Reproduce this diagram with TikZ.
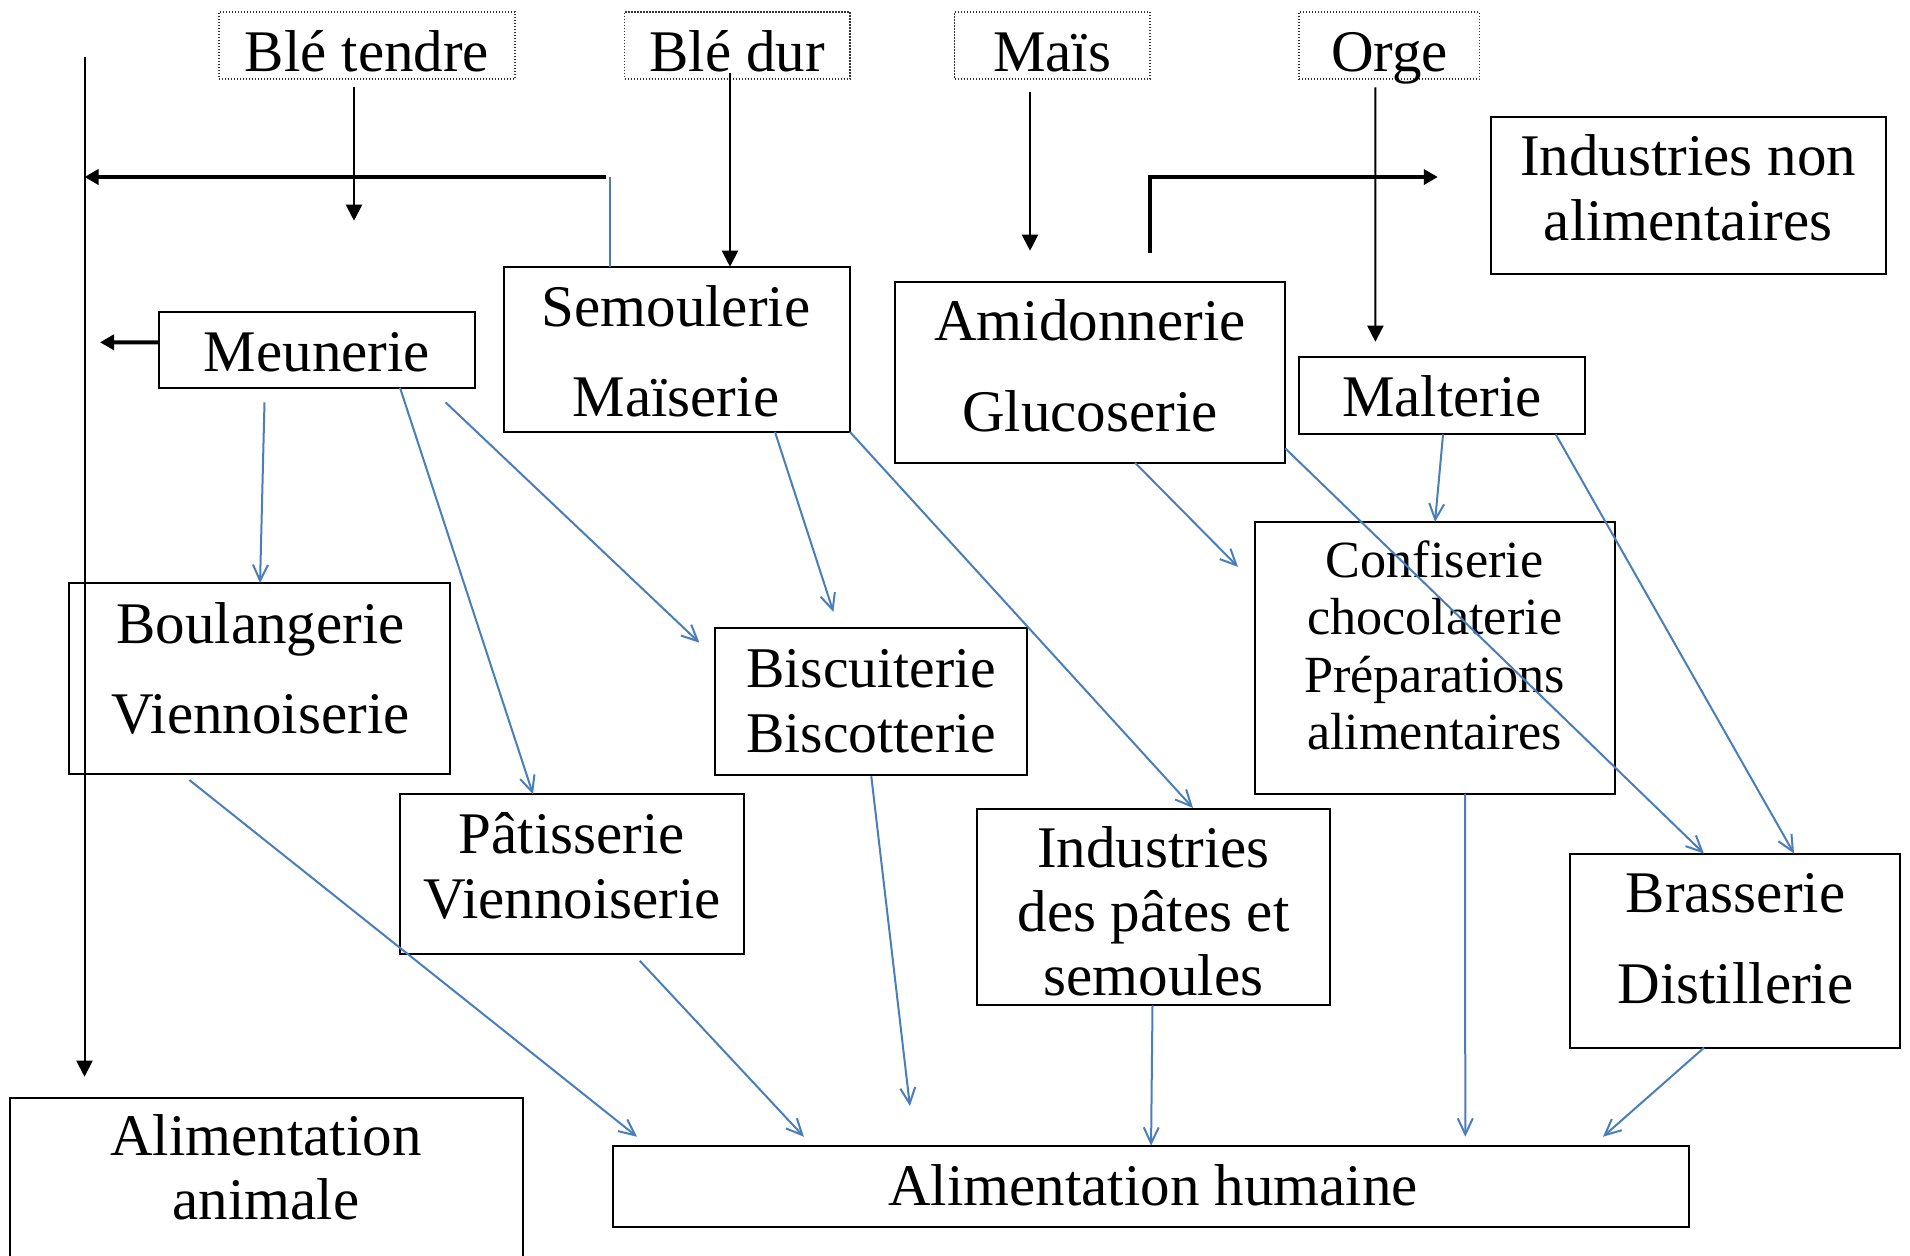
\documentclass[tikz,border=0pt]{standalone}
\usepackage{fontspec}
\setmainfont{Liberation Serif}
\usetikzlibrary{arrows.meta,calc}
\definecolor{bl}{RGB}{74,126,187}
\newcommand\ml[3][29.5pt]{\fontsize{#1}{#2}\selectfont\begin{tabular}[t]{@{}c@{}}#3\end{tabular}}
\begin{document}
\begin{tikzpicture}[x=0.5pt,y=-0.5pt,
  box/.style={draw=black,line width=1pt,rectangle,inner sep=0pt,outer sep=0pt},
  src/.style={draw=black!80,line width=0.6pt,dash pattern=on 0.6pt off 0.9pt,rectangle,inner sep=0pt,outer sep=0pt,minimum height=33.5pt},
  txt/.style={inner sep=0pt,outer sep=0pt,anchor=base,font=\fontsize{29.5pt}{32pt}\selectfont},
  blu/.style={draw=bl,line width=1pt,-{Straight Barb[length=8pt,width=7.5pt,line width=1pt]}},
  blk/.style={draw=black,line width=1pt,-{Triangle[length=8pt,width=8pt]}},
  thk/.style={draw=black,line width=2pt,-{Triangle[length=7pt,width=7.5pt]}}]
\useasboundingbox (0,0) rectangle (1910,1255);
% source boxes
\node[src,minimum width=148pt] (bt) at (367,45.5) {};
\node[src,minimum width=112.75pt] (bd) at (737.25,45.5) {};
\node[src,minimum width=97.65pt] (mais) at (1052.35,45.5) {};
\node[src,minimum width=90.35pt] (orge) at (1389.35,45.5) {};
\node[txt] (bt-t) at (367,71.7) {Blé tendre};
\node[txt] (bd-t) at (737,71.7) {Blé dur};
\node[txt] (mais-t) at (1052,71.7) {Maïs};
\node[txt] (orge-t) at (1389.5,71) {Orge};
% boxes
\node[box,minimum width=197.4pt,minimum height=78.8pt] (ina) at (1688.1,195.5) {};
\node[box,minimum width=173pt,minimum height=82.65pt] (sem) at (677,349.35) {};
\node[box,minimum width=157.75pt,minimum height=37.7pt] (meun) at (316.75,350) {};
\node[box,minimum width=194.95pt,minimum height=90.2pt] (amid) at (1090.25,372.5) {};
\node[box,minimum width=142.65pt,minimum height=38.8pt] (malt) at (1442.05,395.5) {};
\node[box,minimum width=190.15pt,minimum height=95.55pt] (boul) at (259.55,678.65) {};
\node[box,minimum width=156.1pt,minimum height=73.7pt] (bisc) at (870.9,701.7) {};
\node[box,minimum width=180pt,minimum height=135.95pt] (conf) at (1435,657.85) {};
\node[box,minimum width=171.8pt,minimum height=79.8pt] (pat) at (571.8,874) {};
\node[box,minimum width=176.45pt,minimum height=98.1pt] (ind) at (1153.15,907.3) {};
\node[box,minimum width=165.15pt,minimum height=97.1pt] (bras) at (1735.15,950.6) {};
\node[box,minimum width=256.4pt,minimum height=88.65pt] (aa) at (266.1,1186.35) {};
\node[box,minimum width=538.35pt,minimum height=40.8pt] (ah) at (1151.05,1186.5) {};
% texts
\node[txt] (ina-t) at (1688,175.7) {\ml{32.15pt}{Industries non\\alimentaires}};
\node[txt] (sem-t) at (676,326) {\ml{45.25pt}{Semoulerie\\Maïserie}};
\node[txt] (meun-t) at (317,371) {Meunerie};
\node[txt] (amid-t) at (1090,340.7) {\ml{45.5pt}{Amidonnerie\\Glucoserie}};
\node[txt] (malt-t) at (1442,416) {Malterie};
\node[txt] (boul-t) at (260.6,643.5) {\ml{44.75pt}{Boulangerie\\Viennoiserie}};
\node[txt] (bisc-t) at (871.3,687.7) {\ml[28.8pt]{32.3pt}{Biscuiterie\\Biscotterie}};
\node[txt] (conf-t) at (1434.6,577.3) {\ml[26.1pt]{28.7pt}{Confiserie\\chocolaterie\\Préparations\\alimentaires}};
\node[txt] (pat-t) at (572,853.8) {\ml{32.35pt}{Pâtisserie\\Viennoiserie}};
\node[txt] (ind-t) at (1153.5,867.7) {\ml{32pt}{Industries\\des pâtes et\\semoules}};
\node[txt] (bras-t) at (1735.5,912.3) {\ml{45.6pt}{Brasserie\\Distillerie}};
\node[txt] (aa-t) at (266,1155.7) {\ml{31.8pt}{Alimentation\\animale}};
\node[txt] (ah-t) at (1153,1205) {Alimentation humaine};
% free ends
\coordinate (vtop) at (84.5,57);
\coordinate (vbot) at (84.5,1076.7);
\coordinate (btend) at (354,220.7);
\coordinate (semup) at (610,177);
\coordinate (meunend) at (100,342.3);
\coordinate (maisend) at (1030,250.7);
\coordinate (amidup) at (1150,177);
\coordinate (inaend) at (1437.8,177);
\coordinate (orgeend) at (1375.4,341.7);
% black connectors
\draw[blk] (vtop) -- (vbot);
\draw[blk] ($(bt.south)+(-13,8.3)$) -- (btend);
\draw[blk] ($(bd.south)+(-7.25,-6)$) -- ($(sem.north)+(53,0)$);
\draw[bl,line width=1pt] ($(sem.north)+(-67,0)$) -- (semup);
\draw[thk] ($(semup)+(-4,0)$) -- (vtop |- semup);
\draw[thk] ($(meun.west)+(0,-7.7)$) -- (meunend);
\draw[blk] ($(mais.south)+(-22.35,13.3)$) -- (maisend);
\draw[thk] ($(amid.north)+(59.75,-29)$) -- (amidup) -- (inaend);
\draw[blk] ($(orge.south)+(-13.95,8.3)$) -- (orgeend);
% blue connectors
\draw[blu] ($(meun.south)+(-52.25,14.6)$) -- ($(boul.north)+(0.5,0)$);
\draw[blu] ($(meun.south)+(83.25,0)$) -- ($(pat.north)+(-38.8,0)$);
\draw[blu] ($(meun.south)+(128.75,14.6)$) -- ($(bisc.north west)+(-15.4,14.7)$);
\draw[blu] ($(sem.south)+(98,0)$) -- ($(bisc.north)+(-37.5,-16.1)$);
\draw[blu] (sem.south east) -- ($(ind.north)+(39.85,-1.2)$);
\draw[blu] ($(amid.south)+(44.75,0)$) -- ($(conf.north west)+(-17,45)$);
\draw[blu] ($(amid.south east)+(0,-14.4)$) -- ($(bras.north)+(-31.25,0)$);
\draw[blu] ($(malt.south)+(1,0)$) -- (conf.north);
\draw[blu] ($(malt.south east)+(-29,0)$) -- ($(bras.north)+(58.85,0)$);
\draw[blu] ($(boul.south)+(-70.15,5.8)$) -- ($(ah.north west)+(24.3,-9)$);
\draw[blu] ($(pat.south)+(68,7)$) -- ($(ah.north west)+(191.2,-9)$);
\draw[blu] ($(bisc.south)+(0.4,0.8)$) -- ($(ah.north west)+(297.2,-39.7)$);
\draw[blu] ($(ind.south)+(-0.65,0)$) -- (ah.north);
\draw[blu] ($(conf.south)+(30,0)$) -- ($(ah.north)+(314.25,-9)$);
\draw[blu] ($(bras.south)+(-31.15,0)$) -- ($(ah.north east)+(-86.4,-9)$);
\end{tikzpicture}
\end{document}
